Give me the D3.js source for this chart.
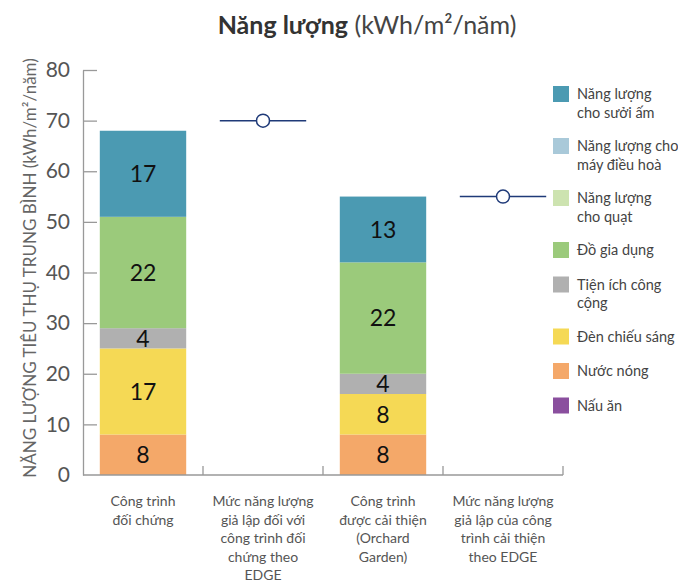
<!DOCTYPE html>
<html><head><meta charset="utf-8">
<script src="https://cdn.jsdelivr.net/npm/d3@7"></script>
<style>
body{margin:0;background:#fff;}
text{font-family:Lato, "Noto Sans", sans-serif;}
</style></head>
<body><svg id="c" width="678" height="583"></svg>
<script>
const categories = [
  ["Công trình","đối chứng"],
  ["Mức năng lượng","giả lập đối với","công trình đối","chứng theo","EDGE"],
  ["Công trình","được cải thiện","(Orchard","Garden)"],
  ["Mức năng lượng","giả lập của công","trình cải thiện","theo EDGE"]
];
const seriesNames = [
  ["Năng lượng","cho sưởi ấm"],
  ["Năng lượng cho","máy điều hoà"],
  ["Năng lượng","cho quạt"],
  ["Đồ gia dụng"],
  ["Tiện ích công","cộng"],
  ["Đèn chiếu sáng"],
  ["Nước nóng"],
  ["Nấu ăn"]
];
const seriesColors = ["#4b9ab2","#a9c9d9","#cde3b0","#9bca7b","#b0b0b0","#f5d955","#f4a869","#8a4f9e"];
const heating    = [17, 0, 13, 0];
const cooling    = [0, 0, 0, 0];
const fan        = [0, 0, 0, 0];
const appliances = [22, 0, 22, 0];
const publicUse  = [4, 0, 4, 0];
const lighting   = [17, 0, 8, 0];
const hotWater   = [8, 0, 8, 0];
const cooking    = [0, 0, 0, 0];
const edgeSimulated = [null, 70, null, 55];
const yTicks = [0,10,20,30,40,50,60,70,80];
const titleBold = "Năng lượng";
const titleUnit = " (kWh/m²/năm)";
const yTitle = "NĂNG LƯỢNG TIÊU THỤ TRUNG BÌNH (kWh/m²/năm)";

const seriesValues = [heating, cooling, fan, appliances, publicUse, lighting, hotWater, cooking];

const svg = d3.select("#c");
const mLeft = 83, mRight = 563, mTop = 70, mBottom = 475;
const y = d3.scaleLinear().domain([0,80]).range([mBottom, mTop]);
const idx = categories.map((d,i)=>i);
const xBand = d3.scaleBand().domain(idx).range([mLeft,mRight]).padding(0);
const xBar = d3.scaleBand().domain(idx).range([mLeft,mRight]).paddingInner(0.28).paddingOuter(0.14);

// title
const t = svg.append("text").attr("x",367).attr("y",34).attr("text-anchor","middle")
  .style("font-size","25px").attr("fill","#333");
t.append("tspan").attr("font-weight","bold").text(titleBold);
t.append("tspan").attr("fill","#444").text(titleUnit);

// y axis title
svg.append("text").attr("transform","translate(36,268) rotate(-90)")
  .attr("text-anchor","middle").attr("fill","#666").style("font-size","17px").text(yTitle);

// stacked data
const rows = idx.map(i => {
  const o = {i};
  seriesValues.forEach((s,k)=>o[k]=s[i]);
  return o;
});
const stackKeys = seriesValues.map((s,k)=>k).reverse();
const stack = d3.stack().keys(stackKeys)(rows);

// y axis
const yAxis = svg.append("g").attr("transform",`translate(${mLeft},0)`)
  .call(d3.axisLeft(y).tickValues(yTicks).tickSize(-14).tickSizeOuter(0).tickPadding(13));
yAxis.select(".domain").attr("stroke","#999").attr("stroke-width",1.3);
yAxis.selectAll(".tick line").attr("stroke","#999").attr("stroke-width",1.3);
yAxis.selectAll(".tick text").attr("fill","#555").style("font-size","21px").style("font-family","Lato, sans-serif");
yAxis.selectAll(".tick").filter(d=>d===0).select("line").remove();

// bars
const g = svg.append("g");
stack.forEach(layer => {
  const k = layer.key;
  layer.forEach(seg => {
    const v = seg[1]-seg[0];
    if (!v) return;
    const i = seg.data.i;
    g.append("rect").attr("x",xBar(i)).attr("width",xBar.bandwidth())
      .attr("y",y(seg[1])).attr("height",y(seg[0])-y(seg[1])).attr("fill",seriesColors[k]);
    g.append("text").attr("x",xBar(i)+xBar.bandwidth()/2).attr("y",(y(seg[0])+y(seg[1]))/2)
      .attr("dy","0.36em").attr("text-anchor","middle").attr("fill","#111")
      .style("font-size","23px").text(v);
  });
});

// x axis
const xg = svg.append("g");
xg.append("line").attr("x1",mLeft).attr("x2",mRight).attr("y1",mBottom).attr("y2",mBottom)
  .attr("stroke","#999").attr("stroke-width",1.3);
idx.forEach(i=>{
  const xb = xBand(i)+xBand.bandwidth();
  xg.append("line").attr("x1",xb).attr("x2",xb).attr("y1",mBottom).attr("y2",mBottom-9)
    .attr("stroke","#999").attr("stroke-width",1.3);
  const cx = xBand(i)+xBand.bandwidth()/2;
  const tx = xg.append("text").attr("x",cx).attr("y",506)
    .attr("text-anchor","middle").attr("fill","#555").style("font-size","14px");
  categories[i].forEach((line,j)=>tx.append("tspan").attr("x",cx)
    .attr("dy", j?"18.5":"0").text(line));
});

// EDGE markers
edgeSimulated.forEach((v,i)=>{
  if (v==null) return;
  const cx = xBand(i)+xBand.bandwidth()/2, cy = y(v);
  const hw = xBar.bandwidth()/2;
  svg.append("line").attr("x1",cx-hw).attr("x2",cx+hw).attr("y1",cy).attr("y2",cy)
    .attr("stroke","#1f3a78").attr("stroke-width",1.5);
  svg.append("circle").attr("cx",cx).attr("cy",cy).attr("r",6.5)
    .attr("fill","#fff").attr("stroke","#1f3a78").attr("stroke-width",1.5);
});

// legend
let ly = 86;
const lg = svg.append("g");
seriesNames.forEach((lines,k)=>{
  lg.append("rect").attr("x",553).attr("y",ly).attr("width",16).attr("height",16).attr("fill",seriesColors[k]);
  const tx = lg.append("text").attr("x",577).attr("y",ly+13).attr("fill","#444").style("font-size","14.5px");
  lines.forEach((line,j)=>tx.append("tspan").attr("x",577).attr("dy",j?"18.5":"0").text(line));
  ly += lines.length===2 ? 52 : 34.5;
});
</script></body></html>
